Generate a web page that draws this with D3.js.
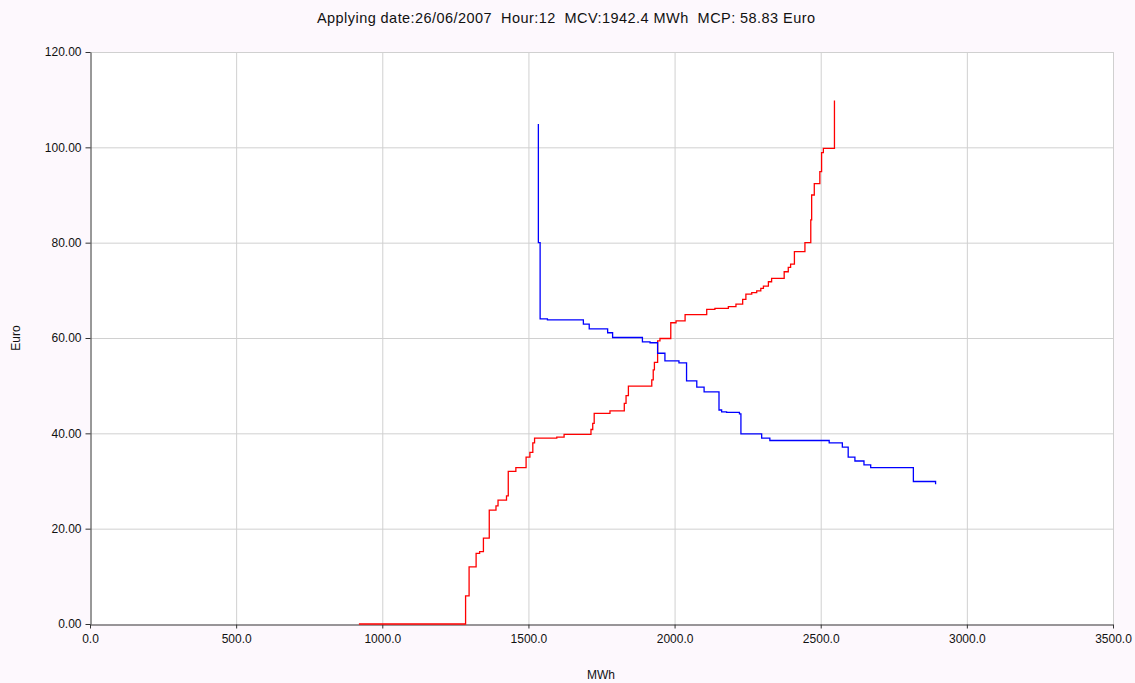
<!DOCTYPE html>
<html>
<head>
<meta charset="utf-8">
<script src="https://cdn.jsdelivr.net/npm/d3@7"></script>
<style>
  body { margin: 0; background: #fdf8fd; }
  svg { display: block; font-family: "Liberation Sans", Arial, sans-serif; }
</style>
</head>
<body>
<svg id="chart" width="1135" height="683"></svg>
<script>
// supply curve (MWh, Euro) - step after
var supplyMwh = [920, 1285, 1297, 1321, 1333, 1346, 1366, 1389, 1396, 1425, 1431, 1457, 1492, 1505, 1515, 1521,
  1597, 1622, 1714, 1720, 1725, 1779, 1828, 1834, 1842, 1922, 1927, 1931, 1942, 1950, 1987, 2005, 2036,
  2110, 2138, 2184, 2210, 2233, 2244, 2264, 2281, 2295, 2304, 2321, 2332, 2375, 2389, 2397, 2410, 2446,
  2466, 2469, 2478, 2497, 2503, 2509, 2547];
var supplyEuro = [0, 5.9, 12.0, 14.8, 15.2, 18.0, 23.9, 24.8, 26.0, 26.9, 32.0, 32.8, 35.0, 36.0, 38.0, 39.0,
  39.2, 39.8, 40.8, 42.1, 44.2, 44.7, 46.3, 47.9, 49.9, 51.2, 53.3, 54.9, 59.4, 59.9, 63.2, 63.6, 64.9,
  66.0, 66.2, 66.6, 67.1, 68.1, 69.2, 69.5, 69.9, 70.4, 70.9, 71.8, 72.5, 73.9, 74.8, 75.5, 78.1, 80.0,
  84.8, 90.0, 92.4, 94.9, 98.9, 99.8, 109.8];

// demand curve (MWh, Euro)
var demandMwh = [1534, 1534, 1540, 1565, 1688, 1708, 1771, 1788, 1890, 1916, 1942, 1967, 2015, 2041, 2076,
  2101, 2152, 2161, 2178, 2222, 2227, 2298, 2326, 2529, 2574, 2594, 2617, 2648, 2671, 2817, 2893];
var demandEuro = [104.9, 80.0, 64.0, 63.8, 62.9, 61.9, 61.1, 60.1, 59.2, 59.0, 56.8, 55.2, 54.8, 51.0, 49.7,
  48.7, 44.9, 44.5, 44.4, 44.1, 39.9, 39.0, 38.5, 38.0, 37.1, 35.0, 34.2, 33.4, 32.8, 29.9, 29.3];

var xTicks = [0, 500, 1000, 1500, 2000, 2500, 3000, 3500];
var yTicks = [0, 20, 40, 60, 80, 100, 120];
var title = "Applying date:26/06/2007  Hour:12  MCV:1942.4 MWh  MCP: 58.83 Euro";

var margin = { left: 90, top: 52, right: 22, bottom: 59 };
var width = 1135, height = 683;

var svg = d3.select("#chart");

var x = d3.scaleLinear().domain([0, 3500]).range([margin.left, width - margin.right]);
var y = d3.scaleLinear().domain([0, 120]).range([height - margin.bottom, margin.top]);

// plot background
svg.append("rect")
  .attr("x", x(0)).attr("y", y(120))
  .attr("width", x(3500) - x(0)).attr("height", y(0) - y(120))
  .attr("fill", "#ffffff");

// grid
svg.append("g").selectAll("line").data(xTicks.slice(1)).join("line")
  .attr("x1", d => x(d) + 0.5).attr("x2", d => x(d) + 0.5)
  .attr("y1", y(120)).attr("y2", y(0))
  .attr("stroke", "#d0d0d0");
svg.append("g").selectAll("line").data(yTicks.slice(1)).join("line")
  .attr("x1", x(0)).attr("x2", x(3500))
  .attr("y1", d => y(d) + 0.5).attr("y2", d => y(d) + 0.5)
  .attr("stroke", "#d0d0d0");

// axes
var xAxis = svg.append("g")
  .attr("transform", "translate(0," + (y(0) + 0.5) + ")")
  .call(d3.axisBottom(x).tickValues(xTicks).tickFormat(d3.format(".1f")).tickSizeInner(4).tickSizeOuter(0).tickPadding(6));
var yAxis = svg.append("g")
  .attr("transform", "translate(" + (x(0) + 0.5) + ",0)")
  .call(d3.axisLeft(y).tickValues(yTicks).tickFormat(d3.format(".2f")).tickSizeInner(5).tickSizeOuter(0).tickPadding(4));

[xAxis, yAxis].forEach(function (g) {
  g.selectAll("path, line").attr("stroke", "#333");
  g.selectAll("text").attr("font-size", 12).attr("fill", "#111")
    .attr("font-family", "'Liberation Sans', Arial, sans-serif");
});

// lines
var line = d3.line().curve(d3.curveStepAfter)
  .x(d => x(d[0])).y(d => y(d[1]));

svg.append("path")
  .datum(supplyMwh.map((v, i) => [v, supplyEuro[i]]))
  .attr("d", line)
  .attr("fill", "none").attr("stroke", "#ff0000").attr("stroke-width", 1.3);

svg.append("path")
  .datum(demandMwh.map((v, i) => [v, demandEuro[i]]))
  .attr("d", line)
  .attr("fill", "none").attr("stroke", "#0000ff").attr("stroke-width", 1.3);

// texts
svg.append("text")
  .attr("x", 566).attr("y", 23)
  .attr("text-anchor", "middle").attr("font-size", 14.5).attr("fill", "#111")
  .attr("textLength", 498).attr("lengthAdjust", "spacing")
  .style("white-space", "pre")
  .text(title);

svg.append("text")
  .attr("transform", "translate(20," + ((y(0) + y(120)) / 2) + ") rotate(-90)")
  .attr("text-anchor", "middle").attr("font-size", 12).attr("fill", "#111")
  .text("Euro");

svg.append("text")
  .attr("x", 601).attr("y", 679)
  .attr("text-anchor", "middle").attr("font-size", 12).attr("fill", "#111")
  .text("MWh");
</script>
</body>
</html>
